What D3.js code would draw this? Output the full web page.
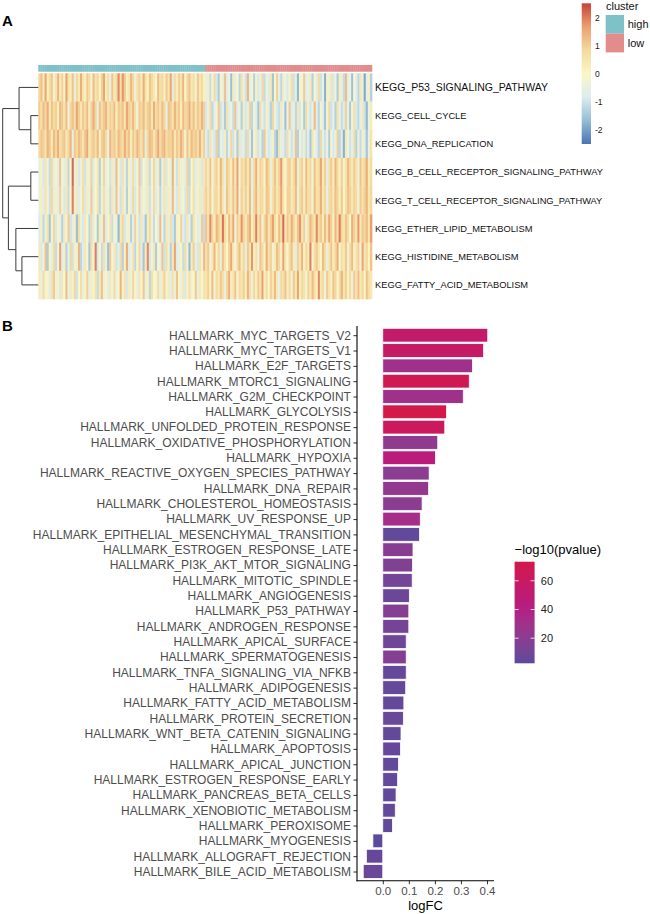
<!DOCTYPE html>
<html>
<head>
<meta charset="utf-8">
<script src="https://cdn.jsdelivr.net/npm/d3@7"></script>
<style>
  html, body { margin: 0; padding: 0; background: #fff; }
  svg { display: block; font-family: "Liberation Sans", Arial, Helvetica, sans-serif; }
</style>
</head>
<body>
<svg id="fig" width="650" height="914"></svg>
<script>
// ---------- panel A data: GSVA scores, first 80 samples = high cluster, last 80 = low ----------
const keggSets = [
  "KEGG_P53_SIGNALING_PATHWAY", "KEGG_CELL_CYCLE", "KEGG_DNA_REPLICATION",
  "KEGG_B_CELL_RECEPTOR_SIGNALING_PATHWAY", "KEGG_T_CELL_RECEPTOR_SIGNALING_PATHWAY",
  "KEGG_ETHER_LIPID_METABOLISM", "KEGG_HISTIDINE_METABOLISM", "KEGG_FATTY_ACID_METABOLISM"
];
const clusterNames = ["high", "low"];
const clusterSizes = [80, 80];

const p53 = [
  0.9, 1.3, 0.4, 1.6, 0.2, 0.8, 1.1, -0.3, 0.6, 1.4, 0.5, 1.0, 0.1, 1.7, 0.7, 0.3, 1.2, -0.5, 0.9, 0.4,
  1.5, 0.6, 0.2, 1.1, 0.8, -0.2, 1.3, 0.5, 0.9, 0.0, 1.0, 1.6, 0.3, 0.7, -0.6, 1.2, 0.4, 0.8, 1.9, 0.6,
  1.8, 1.1, 0.2, 0.5, 1.4, 0.9, -0.4, 0.7, 1.0, 0.3, 1.5, 0.6, 0.1, 1.2, 0.8, 0.4, -0.1, 1.3, 0.7, 0.9,
  0.2, 1.1, 0.5, 1.6, -0.7, 0.8, 0.3, 1.0, 0.6, 1.4, 0.0, 0.9, 1.2, 0.4, 0.7, -0.3, 1.1, 0.5, 0.8, 0.2,
  -0.6, 0.3, -1.1, -0.2, 0.8, -0.9, -1.4, 0.1, -0.5, 1.2, -0.8, -0.3, -1.6, 0.4, -0.7, 0.0, -1.2, 0.6, -0.4, -1.0,
  1.4, -0.6, -0.2, -1.3, 0.2, -0.9, -0.5, 0.9, -1.1, -0.3, -0.8, 0.5, -1.5, -0.1, 1.0, -0.7, -1.2, 0.3, -0.4, -0.9,
  -0.2, 0.7, -1.0, -0.6, -1.7, 0.1, -0.3, 1.1, -0.8, -0.5, 0.4, -1.3, -0.1, -0.7, 0.8, -1.0, -0.4, -1.8, 0.2, -0.6,
  0.6, -0.9, -0.2, -1.4, 0.3, -0.5, -1.1, 1.3, -0.7, -0.3, -1.6, 0.0, -0.8, -1.2, 0.5, -0.4, -1.9, -0.6, 0.2, -1.3
];
const cellCycle = [
  1.1, 0.7, 1.3, 0.9, 1.5, 0.4, 1.2, 0.8, 1.0, 0.2, 1.4, 1.1, 0.6, 1.3, -0.4, 0.9, 1.2, 0.7, 1.6, 1.0,
  0.5, 1.1, 0.8, 1.3, 0.3, 1.0, 1.5, 0.9, -0.6, 1.2, 0.7, 1.1, 1.4, 0.6, 1.0, 0.8, 1.3, 0.2, 1.1, 0.9,
  1.2, 0.5, 1.6, 1.0, 0.8, 1.4, 0.7, -0.3, 1.1, 0.9, 1.3, 0.6, 1.0, 1.2, 0.4, 1.5, 0.8, 1.1, 0.7, 1.3,
  0.9, -0.5, 1.2, 1.0, 0.6, 1.4, 0.8, 1.1, 0.3, 1.3, 0.9, 1.0, 1.5, 0.7, 1.2, 0.5, 1.1, 0.8, 1.4, 1.0,
  -0.9, -0.4, 0.8, -1.2, -0.6, -0.2, 1.1, -1.0, -0.5, -1.4, 0.6, -0.8, -0.3, -1.1, 1.2, -0.7, -0.4, -1.3, 0.3, -0.9,
  -0.6, 1.0, -1.2, -0.2, -0.8, -1.5, 0.7, -0.5, -1.0, 0.2, -0.7, -1.3, 0.9, -0.4, -0.9, -1.1, 0.4, -0.6, -1.6, -0.3,
  1.1, -0.8, -0.5, -1.2, 0.5, -0.9, -0.2, -1.4, 0.8, -0.6, -1.0, -0.4, 1.3, -0.7, -1.2, 0.1, -0.8, -1.5, -0.3, 0.9,
  -1.0, -0.6, -1.3, 0.6, -0.4, -1.1, -0.8, 1.0, -0.5, -1.4, -0.2, 0.7, -0.9, -1.2, -0.6, 0.4, -1.0, -1.7, -0.4, 0.3
];
const dnaReplication = [
  0.8, 1.2, 1.0, 0.6, 1.4, 1.1, 0.3, 1.3, 0.9, 1.5, 0.7, 1.0, 1.2, 0.5, 0.9, 1.4, -0.5, 1.1, 0.8, 1.3,
  1.0, 0.6, 1.2, 1.6, 0.4, 0.9, 1.1, 0.7, 1.3, 0.2, 1.0, 1.2, 0.8, -0.4, 1.4, 0.9, 1.1, 0.6, 1.3, 1.0,
  0.7, 1.5, 0.9, 1.2, 0.3, 1.1, 0.8, 1.4, 1.0, 0.6, 1.2, -0.6, 0.9, 1.3, 1.1, 0.5, 1.0, 1.6, 0.8, 1.2,
  1.4, 0.7, 1.0, 0.9, 1.3, 0.4, 1.1, 0.8, 1.5, 1.0, -0.2, 1.2, 0.6, 1.3, 0.9, 1.1, 0.7, 1.4, 0.5, 1.0,
  -0.7, -1.1, 0.6, -0.5, -0.9, 1.0, -1.3, -0.4, -0.8, 0.3, -1.2, -0.6, 0.9, -1.0, -0.3, -1.4, 0.5, -0.8, -0.5, -1.1,
  0.8, -0.7, -1.5, -0.2, 0.4, -1.0, -0.6, -1.3, 1.1, -0.4, -0.9, -0.7, 0.2, -1.2, -1.6, 0.6, -0.5, -0.8, -1.1, 0.7,
  -0.3, -1.0, -0.6, 1.2, -1.3, -0.4, -0.9, 0.3, -1.1, -0.7, -1.5, 0.5, -0.2, -0.8, -1.2, 0.9, -0.6, -1.0, -0.4, -1.4,
  0.1, -0.9, -0.5, 1.0, -1.2, -0.7, -1.8, 0.4, -0.3, -1.0, -0.6, 0.8, -1.3, -0.5, -1.1, 0.2, -0.8, -1.5, -0.4, 0.6
];
const bCellReceptor = [
  -0.6, 0.2, -0.9, 0.5, -0.3, -1.1, 0.8, -0.5, 0.1, -0.8, 1.2, -0.2, -0.7, 0.4, -1.2, 0.0, 2.2, -0.6, 0.3, -0.9,
  -0.4, 0.7, -1.0, 0.2, -0.5, 1.0, -0.8, -0.1, 0.5, -1.3, -0.3, 0.9, -0.6, 0.1, -1.0, 0.4, -0.7, 1.3, -0.2, -0.9,
  0.6, -0.4, -1.2, 0.2, -0.6, 0.8, -0.8, -0.3, 1.1, -1.0, 0.0, -0.5, 0.5, -1.1, -0.2, 0.9, -0.7, 0.3, -1.4, -0.4,
  0.7, -0.9, 0.1, -0.6, 1.4, -0.3, -1.0, 0.4, -0.5, 0.2, -0.8, 1.0, -1.2, -0.1, 0.6, -0.7, -0.4, 0.3, -0.9, 0.5,
  0.9, 0.4, 1.2, -0.3, 0.7, 1.0, 0.2, 1.4, 0.6, -0.5, 1.1, 0.8, 0.3, 1.3, 0.5, 1.7, -0.2, 0.9, 0.6, 1.1,
  0.4, 1.2, -0.6, 0.8, 1.5, 0.3, 1.0, 0.7, 0.1, 1.3, 0.9, -0.4, 0.6, 1.2, 0.4, 1.0, 1.8, 0.5, -0.1, 0.9,
  1.1, 0.3, 0.8, 1.4, -0.5, 0.7, 1.0, 0.2, 1.3, 0.6, 0.9, -0.3, 1.2, 0.5, 0.8, 1.6, 0.4, 1.0, -0.7, 0.7,
  1.1, 0.3, 1.4, 0.8, 0.2, 1.0, -0.2, 0.6, 1.3, 0.9, 0.4, 1.1, 0.7, -0.4, 1.2, 0.5, 0.9, 1.5, 0.3, 0.8
];
const tCellReceptor = [
  -0.4, 0.3, -0.8, 0.6, -0.2, -1.0, 0.9, -0.6, 0.2, -0.7, 1.0, -0.3, -0.9, 0.5, -1.1, 0.1, 2.0, -0.5, 0.4, -0.8,
  -0.2, 0.8, -0.9, 0.3, -0.6, 1.1, -0.7, 0.0, 0.6, -1.2, -0.4, 0.7, -0.5, 0.2, -1.1, 0.5, -0.6, 1.2, -0.3, -1.0,
  0.5, -0.3, -1.3, 0.1, -0.7, 0.9, -0.9, -0.2, 1.0, -0.8, 0.1, -0.6, 0.4, -1.0, -0.3, 0.8, -0.8, 0.2, -1.2, -0.5,
  0.6, -0.7, 0.3, -0.5, 1.3, -0.4, -0.9, 0.5, -0.6, 0.1, -0.9, 0.9, -1.1, 0.0, 0.7, -0.6, -0.3, 0.4, -0.8, 0.6,
  1.0, 0.5, 1.1, -0.2, 0.8, 0.9, 0.3, 1.3, 0.5, -0.4, 1.2, 0.7, 0.4, 1.2, 0.6, 1.6, -0.3, 1.0, 0.5, 1.0,
  0.3, 1.3, -0.5, 0.9, 1.4, 0.4, 0.9, 0.8, 0.2, 1.2, 1.0, -0.3, 0.7, 1.1, 0.5, 0.9, 1.7, 0.6, 0.0, 1.0,
  1.0, 0.4, 0.7, 1.3, -0.4, 0.8, 1.1, 0.3, 1.2, 0.7, 0.8, -0.2, 1.3, 0.6, 0.7, 1.5, 0.5, 0.9, -0.6, 0.8,
  1.0, 0.4, 1.3, 0.9, 0.3, 1.1, -0.1, 0.7, 1.2, 1.0, 0.5, 1.0, 0.8, -0.3, 1.1, 0.6, 1.0, 1.4, 0.4, 0.9
];
const etherLipid = [
  -0.8, 0.3, -1.2, -0.4, 0.6, -1.5, -0.2, 0.9, -0.9, 0.1, -0.6, -1.3, 0.4, -0.3, 1.1, -1.0, -0.5, 0.2, -1.6, 0.7,
  -0.4, -0.9, 0.5, -0.1, -1.2, 0.8, -0.7, 0.0, -1.4, 0.3, -0.5, 1.2, -0.8, -0.2, 0.6, -1.1, 0.1, -0.6, -1.7, 0.4,
  0.9, -0.9, -0.3, 0.2, -1.3, -0.6, 1.0, -0.2, -1.0, 0.5, -0.7, -1.5, 0.3, 0.8, -0.4, -1.1, 0.0, -0.8, 1.3, -0.3,
  -1.2, 0.4, -0.5, 0.7, -0.9, -1.4, 0.2, -0.1, 1.0, -0.7, -1.0, 0.5, -0.4, -1.3, 0.6, 0.1, -0.8, -0.5, 1.1, -1.1,
  1.2, 0.6, 1.9, 0.9, 0.3, 1.4, 1.0, 0.5, 2.1, 0.8, 0.2, 1.3, 0.7, 1.6, -0.3, 1.0, 0.6, 1.8, 0.9, 0.4,
  1.1, 1.5, 0.3, 0.8, 2.0, 0.6, 1.2, -0.2, 0.9, 1.4, 0.5, 1.0, 1.7, 0.7, 0.2, 1.3, 0.8, 2.2, 0.4, 1.1,
  0.6, 1.5, 0.9, 0.3, 1.2, 1.8, 0.5, 1.0, -0.4, 0.7, 1.4, 0.9, 0.4, 1.9, 0.8, 1.1, 0.3, 1.3, 0.6, 1.6,
  1.0, 0.2, 1.4, 0.7, 2.0, 0.9, 0.5, 1.2, 0.8, -0.1, 1.5, 1.0, 0.6, 1.8, 0.4, 1.1, 0.9, 1.3, 0.5, 1.7
];
const histidine = [
  0.4, -0.9, -0.3, 1.2, -1.4, 0.1, -0.6, 0.8, -1.1, -0.2, 1.7, -0.8, 0.3, -1.3, -0.5, 0.9, -1.0, 0.2, -0.4, 1.4,
  -1.2, -0.7, 0.5, -0.1, -1.5, 0.7, -0.3, 2.0, -0.9, 0.0, -1.1, 0.6, -0.5, -1.6, 1.1, -0.2, 0.4, -1.0, -0.6, 0.8,
  -1.3, 0.2, 1.5, -0.8, -0.4, 0.6, -1.2, -0.1, 0.9, -0.7, -1.5, 0.3, 1.9, -0.9, -0.3, 0.5, -1.4, 0.0, -0.6, 1.2,
  -1.0, 0.7, -0.2, -1.3, 0.4, 1.6, -0.8, -0.5, 0.1, -1.1, 0.8, -0.4, -1.7, 0.3, 1.0, -0.6, -0.9, 0.6, -0.3, 1.3,
  0.7, 1.1, -0.3, 0.5, 1.4, 0.2, 0.9, -0.5, 1.2, 0.6, 0.0, 1.0, 1.6, 0.4, -0.2, 0.8, 1.3, 0.3, 0.9, -0.6,
  1.1, 0.5, 1.8, 0.2, 0.7, -0.4, 1.2, 0.8, 0.1, 1.5, 0.6, 1.0, -0.3, 0.4, 1.3, 0.9, 0.2, 1.7, 0.5, -0.1,
  0.8, 1.2, 0.3, -0.7, 1.0, 0.6, 1.4, 0.1, 0.9, 0.4, 2.0, -0.2, 0.7, 1.1, 0.5, 0.0, 1.3, 0.8, -0.5, 0.6,
  1.2, 0.3, 0.9, 1.5, -0.1, 0.7, 0.4, 1.1, -0.4, 0.8, 1.3, 0.2, 0.6, 1.0, -0.3, 1.6, 0.5, 0.9, 0.1, 1.2
];
const fattyAcid = [
  0.3, -0.5, 0.8, -0.2, 0.1, -0.8, 0.6, 1.1, -0.4, 0.2, -0.9, 0.5, -0.1, 1.3, -0.6, 0.4, -0.3, 0.9, -1.0, 0.0,
  0.7, -0.5, 0.2, 1.0, -0.7, 0.3, -0.2, 0.6, -1.1, 0.4, 1.2, -0.4, 0.1, -0.8, 0.5, -0.3, 0.8, -0.6, 0.0, 1.4,
  -0.2, 0.6, -0.9, 0.3, -0.4, 0.9, 0.1, -0.7, 0.5, -0.1, 1.1, -0.5, 0.2, -1.2, 0.7, 0.0, -0.3, 0.8, -0.6, 0.4,
  1.0, -0.2, 0.3, -0.8, 0.6, -0.4, 1.2, 0.1, -0.5, 0.5, -0.9, 0.2, 0.7, -0.3, 0.0, 1.1, -0.6, 0.4, -0.1, 0.6,
  0.6, 1.0, 0.2, 1.3, -0.3, 0.8, 0.4, 1.1, 0.7, -0.5, 0.9, 1.5, 0.3, 0.6, 1.2, -0.2, 0.8, 0.5, 1.0, 0.1,
  1.4, 0.7, -0.4, 0.9, 0.3, 1.1, 0.6, 1.7, 0.2, 0.8, -0.1, 1.0, 0.5, 1.3, 0.4, -0.6, 0.9, 0.7, 1.2, 0.3,
  0.8, -0.3, 1.1, 0.5, 1.6, 0.2, 0.9, 0.6, -0.2, 1.0, 0.4, 1.3, 0.7, 0.1, 1.9, 0.5, 0.8, -0.4, 1.1, 0.6,
  0.3, 1.2, 0.9, -0.1, 0.7, 1.4, 0.5, 1.0, 0.2, 0.8, -0.5, 1.1, 0.6, 1.3, 0.4, 0.9, 0.0, 1.2, 0.7, 0.5
];
const heatRows = [p53, cellCycle, dnaReplication, bCellReceptor, tCellReceptor, etherLipid, histidine, fattyAcid];

// row dendrogram (leaf = row index, h = merge height)
const rowTree = {h: 1.0, children: [
  {h: 0.54, children: [{leaf: 0}, {h: 0.21, children: [{leaf: 1}, {leaf: 2}]}]},
  {h: 0.84, children: [
    {h: 0.21, children: [{leaf: 3}, {leaf: 4}]},
    {h: 0.63, children: [{leaf: 5}, {h: 0.46, children: [{leaf: 6}, {leaf: 7}]}]}
  ]}
]};

const heatTicks = [-2, -1, 0, 1, 2];

// ---------- panel B data ----------
const hallmarkSets = [
  "HALLMARK_MYC_TARGETS_V2", "HALLMARK_MYC_TARGETS_V1", "HALLMARK_E2F_TARGETS",
  "HALLMARK_MTORC1_SIGNALING", "HALLMARK_G2M_CHECKPOINT", "HALLMARK_GLYCOLYSIS",
  "HALLMARK_UNFOLDED_PROTEIN_RESPONSE", "HALLMARK_OXIDATIVE_PHOSPHORYLATION", "HALLMARK_HYPOXIA",
  "HALLMARK_REACTIVE_OXYGEN_SPECIES_PATHWAY", "HALLMARK_DNA_REPAIR", "HALLMARK_CHOLESTEROL_HOMEOSTASIS",
  "HALLMARK_UV_RESPONSE_UP", "HALLMARK_EPITHELIAL_MESENCHYMAL_TRANSITION", "HALLMARK_ESTROGEN_RESPONSE_LATE",
  "HALLMARK_PI3K_AKT_MTOR_SIGNALING", "HALLMARK_MITOTIC_SPINDLE", "HALLMARK_ANGIOGENESIS",
  "HALLMARK_P53_PATHWAY", "HALLMARK_ANDROGEN_RESPONSE", "HALLMARK_APICAL_SURFACE",
  "HALLMARK_SPERMATOGENESIS", "HALLMARK_TNFA_SIGNALING_VIA_NFKB", "HALLMARK_ADIPOGENESIS",
  "HALLMARK_FATTY_ACID_METABOLISM", "HALLMARK_PROTEIN_SECRETION", "HALLMARK_WNT_BETA_CATENIN_SIGNALING",
  "HALLMARK_APOPTOSIS", "HALLMARK_APICAL_JUNCTION", "HALLMARK_ESTROGEN_RESPONSE_EARLY",
  "HALLMARK_PANCREAS_BETA_CELLS", "HALLMARK_XENOBIOTIC_METABOLISM", "HALLMARK_PEROXISOME",
  "HALLMARK_MYOGENESIS", "HALLMARK_ALLOGRAFT_REJECTION", "HALLMARK_BILE_ACID_METABOLISM"
];
const logFC = [
  0.403, 0.387, 0.344, 0.332, 0.309, 0.245, 0.238, 0.211, 0.202, 0.178, 0.176, 0.151,
  0.144, 0.141, 0.116, 0.114, 0.113, 0.102, 0.100, 0.100, 0.090, 0.090, 0.090, 0.088,
  0.081, 0.079, 0.070, 0.068, 0.060, 0.057, 0.051, 0.048, 0.037, -0.038, -0.063, -0.075
];
const negLog10P = [
  55, 57, 30, 68, 30, 73.3, 63, 22, 45, 20, 24, 20,
  32, 5, 19, 16, 11, 8, 18, 12, 9, 18, 6, 6,
  6, 7, 5, 6, 5, 5, 4, 5, 4, 2.5, 6, 7
];
const fcTicks = [0, 0.1, 0.2, 0.3, 0.4];
const pTicks = [20, 40, 60];

// ---------- drawing ----------
const svg = d3.select("#fig");
svg.append("rect").attr("width", 650).attr("height", 914).attr("fill", "#fff");

svg.append("text").attr("x", 2).attr("y", 26).attr("font-size", 15).attr("font-weight", "bold").text("A");
svg.append("text").attr("x", 2).attr("y", 331).attr("font-size", 15).attr("font-weight", "bold").text("B");

// --- heatmap ---
const nCols = d3.sum(clusterSizes);
const hx = d3.scaleBand().domain(d3.range(nCols)).range([38.3, 372]);
const hy = d3.scaleBand().domain(d3.range(keggSets.length)).range([73.3, 299]);
// RdYlBu, slightly muted like the printed figure
const heatColor = d3.scaleLinear()
  .domain([-2.5, -1.66, -0.82, 0.02, 0.86, 1.7, 2.55])
  .range(["#4A74B2", "#96BDD6", "#DCECF0", "#FAF6C6", "#F4DA9E", "#EBA071", "#C8423B"])
  .clamp(true);
const clusterColor = d3.scaleOrdinal().domain(clusterNames).range(["#7FC1C8", "#E28C8C"]);

const sampleCluster = [];
clusterNames.forEach((c, i) => { for (let k = 0; k < clusterSizes[i]; k++) sampleCluster.push(c); });

svg.append("g").selectAll("rect")
  .data(sampleCluster)
  .join("rect")
  .attr("x", (d, i) => hx(i))
  .attr("y", 65)
  .attr("width", hx.bandwidth() + 0.3)
  .attr("height", 6.7)
  .attr("fill", d => clusterColor(d));

const cells = [];
heatRows.forEach((row, r) => row.forEach((v, c) => cells.push({r, c, v})));
svg.append("g").selectAll("rect")
  .data(cells)
  .join("rect")
  .attr("x", d => hx(d.c))
  .attr("y", d => hy(d.r))
  .attr("width", hx.bandwidth() + 0.35)
  .attr("height", hy.bandwidth() + 0.35)
  .attr("fill", d => heatColor(d.v));

svg.append("g").selectAll("text")
  .data(keggSets)
  .join("text")
  .attr("x", 375)
  .attr("y", (d, i) => hy(i) + hy.bandwidth() / 2)
  .attr("dy", "0.35em")
  .attr("font-size", (d, i) => i === 0 ? 10.5 : 9.3)
  .attr("fill", "#111")
  .text(d => d);

// dendrogram
const root = d3.hierarchy(rowTree);
const dx = d3.scaleLinear().domain([0, 1]).range([38.3, 2.7]);
root.eachAfter(n => {
  n.px = n.data.leaf !== undefined ? dx(0) : dx(n.data.h);
  n.py = n.data.leaf !== undefined ? hy(n.data.leaf) + hy.bandwidth() / 2
                                   : d3.mean(n.children, c => c.py);
});
const dendro = svg.append("g").attr("fill", "none").attr("stroke", "#3a3a3a").attr("stroke-width", 1);
root.descendants().filter(n => n.children).forEach(n => {
  const [a, b] = n.children;
  dendro.append("path")
    .attr("d", `M${a.px},${a.py}H${n.px}V${b.py}H${b.px}`);
});

// heatmap colour legend
const defs = svg.append("defs");
const hg = defs.append("linearGradient").attr("id", "heatGrad")
  .attr("x1", 0).attr("y1", 1).attr("x2", 0).attr("y2", 0);
heatColor.domain().forEach((v, i, arr) => {
  hg.append("stop").attr("offset", (v - arr[0]) / (arr[arr.length - 1] - arr[0])).attr("stop-color", heatColor(v));
});
const hl = d3.scaleLinear().domain([-2.52, 2.54]).range([144, 3.3]);
svg.append("rect").attr("x", 581.7).attr("y", hl(2.54)).attr("width", 9.3)
  .attr("height", hl(-2.52) - hl(2.54)).attr("fill", "url(#heatGrad)");
svg.append("g").selectAll("text")
  .data(heatTicks)
  .join("text")
  .attr("x", 595)
  .attr("y", d => hl(d))
  .attr("dy", "0.35em")
  .attr("font-size", 8.5)
  .attr("fill", "#222")
  .text(d => d);

// cluster legend
svg.append("text").attr("x", 606).attr("y", 10).attr("font-size", 11).attr("fill", "#111").text("cluster");
const cl = svg.append("g").selectAll("g").data(clusterNames).join("g")
  .attr("transform", (d, i) => `translate(605.7,${15 + i * 18.7})`);
cl.append("rect").attr("width", 18.3).attr("height", 18.7).attr("fill", d => clusterColor(d));
cl.append("text").attr("x", 22).attr("y", 9.5).attr("dy", "0.35em")
  .attr("font-size", 11).attr("fill", "#111").text(d => d);

// --- bar chart ---
const [fcMin, fcMax] = d3.extent(logFC);
const fcPad = (fcMax - fcMin) * 0.05;
const bx = d3.scaleLinear().domain([fcMin - fcPad, fcMax + fcPad]).range([357, 494]);
const by = d3.scalePoint().domain(hallmarkSets).range([326, 880.7]).padding(0.6);
const barH = by.step() * 0.9;
const pExt = d3.extent(negLog10P);
const barColor = d3.scaleLinear()
  .domain([pExt[0], 40, pExt[1]])
  .range(["#5C4A9C", "#B41D84", "#D3184A"])
  .interpolate(d3.interpolateLab);

svg.append("g").selectAll("rect")
  .data(hallmarkSets)
  .join("rect")
  .attr("x", (d, i) => Math.min(bx(0), bx(logFC[i])))
  .attr("y", d => by(d) - barH / 2)
  .attr("width", (d, i) => Math.abs(bx(logFC[i]) - bx(0)))
  .attr("height", barH)
  .attr("fill", (d, i) => barColor(negLog10P[i]))
  .attr("stroke", "#fff")
  .attr("stroke-width", 0.8);

const yAxis = svg.append("g").attr("transform", `translate(357,0)`)
  .call(d3.axisLeft(by).tickSize(3.6).tickPadding(2.5));
yAxis.select(".domain").remove();
yAxis.selectAll(".tick line").attr("stroke", "#333").attr("stroke-width", 1);
yAxis.selectAll(".tick text").attr("fill", "#4D4D4D").attr("font-size", 12)
  .attr("font-family", "Liberation Sans, Arial, sans-serif");

const xAxis = svg.append("g").attr("transform", `translate(0,880.7)`)
  .call(d3.axisBottom(bx).tickValues(fcTicks).tickFormat(d3.format(".1f")).tickSize(3.6).tickPadding(2.5));
xAxis.select(".domain").remove();
xAxis.selectAll(".tick line").attr("stroke", "#333").attr("stroke-width", 1);
xAxis.selectAll(".tick text").attr("fill", "#4D4D4D").attr("font-size", 11.5)
  .attr("font-family", "Liberation Sans, Arial, sans-serif");

svg.append("line").attr("x1", 357).attr("x2", 357).attr("y1", 326).attr("y2", 881.2)
  .attr("stroke", "#000").attr("stroke-width", 1.1);
svg.append("line").attr("x1", 356.5).attr("x2", 494).attr("y1", 880.7).attr("y2", 880.7)
  .attr("stroke", "#000").attr("stroke-width", 1.1);

svg.append("text").attr("x", (bx.range()[0] + bx.range()[1]) / 2).attr("y", 909.5)
  .attr("text-anchor", "middle").attr("font-size", 13).attr("fill", "#000").text("logFC");

// bar colour legend
const pl = d3.scaleLinear().domain(pExt).range([663.3, 561.7]);
const pg = defs.append("linearGradient").attr("id", "pGrad")
  .attr("x1", 0).attr("y1", 1).attr("x2", 0).attr("y2", 0);
d3.range(0, 1.0001, 0.1).forEach(t => {
  pg.append("stop").attr("offset", t).attr("stop-color", barColor(pExt[0] + t * (pExt[1] - pExt[0])));
});
svg.append("text").attr("x", 514.6).attr("y", 553.5).attr("font-size", 13).attr("fill", "#000")
  .text("\u2212log10(pvalue)");
svg.append("rect").attr("x", 514.6).attr("y", pl(pExt[1])).attr("width", 20)
  .attr("height", pl(pExt[0]) - pl(pExt[1])).attr("fill", "url(#pGrad)");
const pt = svg.append("g").selectAll("g").data(pTicks).join("g");
pt.append("line").attr("x1", 514.6).attr("x2", 518.6).attr("y1", d => pl(d)).attr("y2", d => pl(d))
  .attr("stroke", "#fff").attr("stroke-width", 0.8);
pt.append("line").attr("x1", 530.6).attr("x2", 534.6).attr("y1", d => pl(d)).attr("y2", d => pl(d))
  .attr("stroke", "#fff").attr("stroke-width", 0.8);
pt.append("text").attr("x", 540.8).attr("y", d => pl(d)).attr("dy", "0.35em")
  .attr("font-size", 11).attr("fill", "#222").text(d => d);
</script>
</body>
</html>
